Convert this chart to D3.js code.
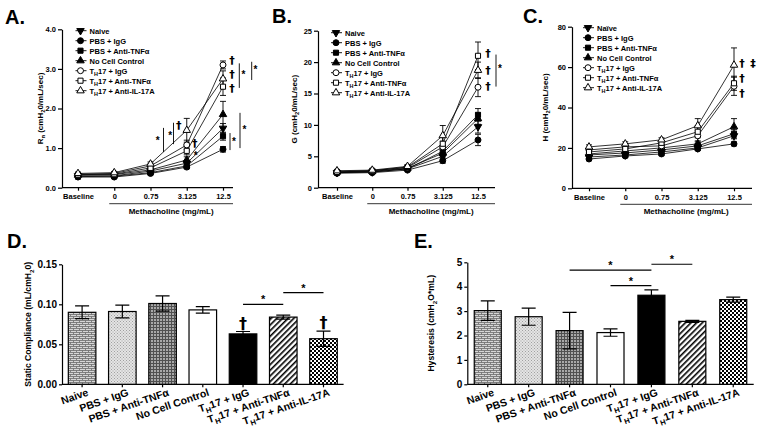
<!DOCTYPE html>
<html><head><meta charset="utf-8">
<script src="https://cdn.jsdelivr.net/npm/d3@7"></script>
<style>
body{margin:0;background:#fff}
svg{display:block}
text{font-family:"Liberation Sans",Arial,Helvetica,sans-serif;font-weight:bold;fill:#000}
text.sym{font-family:"DejaVu Sans","Liberation Serif",serif}
</style>
</head><body>
<svg id="c" width="764" height="437"></svg>
<script>
// ---------------- DATA ----------------
const doses = ["Baseline", "0", "0.75", "3.125", "12.5"];
const groups = ["Naive", "PBS + IgG", "PBS + Anti-TNFα", "No Cell Control", "T_H17 + IgG", "T_H17 + Anti-TNFα", "T_H17 + Anti-IL-17A"];
const groupsC = ["Naïve", "PBS + IgG", "PBS + Anti-TNFα", "No Cell Control", "T_H17 + IgG", "T_H17 + Anti-TNFα", "T_H17 + Anti-IL-17A"];

// Panel A: Rn (cmH2O/mL/sec), rows = groups, cols = doses
const rnMean = [
  [0.30, 0.30, 0.42, 0.62, 1.50],
  [0.27, 0.27, 0.36, 0.52, 0.97],
  [0.28, 0.29, 0.38, 0.55, 1.30],
  [0.32, 0.33, 0.45, 0.70, 1.85],
  [0.34, 0.36, 0.55, 1.08, 3.10],
  [0.33, 0.34, 0.50, 0.93, 2.55],
  [0.36, 0.38, 0.60, 1.45, 2.75]
];
const rnErr = [
  [0.02, 0.02, 0.03, 0.06, 0.12],
  [0.02, 0.02, 0.02, 0.04, 0.07],
  [0.02, 0.02, 0.02, 0.05, 0.10],
  [0.03, 0.03, 0.04, 0.08, 0.33],
  [0.03, 0.03, 0.05, 0.12, 0.10],
  [0.03, 0.03, 0.05, 0.10, 0.22],
  [0.03, 0.03, 0.05, 0.30, 0.20]
];
// Panel B: G
const gMean = [
  [2.4, 2.5, 3.0, 5.0, 9.7],
  [2.3, 2.4, 2.8, 4.3, 7.6],
  [2.4, 2.5, 3.0, 5.8, 11.6],
  [2.5, 2.6, 3.1, 5.5, 11.0],
  [2.6, 2.7, 3.2, 6.5, 16.0],
  [2.5, 2.7, 3.3, 7.0, 21.0],
  [2.7, 2.8, 3.4, 8.3, 18.7]
];
const gErr = [
  [0.1, 0.1, 0.15, 0.5, 1.0],
  [0.1, 0.1, 0.1, 0.4, 0.9],
  [0.1, 0.1, 0.15, 0.6, 1.0],
  [0.1, 0.1, 0.15, 0.6, 0.9],
  [0.15, 0.15, 0.2, 0.9, 1.5],
  [0.15, 0.15, 0.2, 1.0, 2.2],
  [0.15, 0.15, 0.2, 1.6, 1.3]
];
// Panel C: H
const hMean = [
  [15.5, 16.5, 18.0, 20.0, 26.0],
  [14.5, 16.0, 17.0, 19.5, 22.0],
  [16.5, 17.5, 19.0, 21.0, 27.0],
  [17.0, 18.5, 20.0, 22.0, 30.5],
  [19.0, 20.5, 21.0, 26.0, 50.5],
  [18.0, 19.5, 22.5, 28.0, 52.0],
  [20.5, 22.0, 24.0, 31.0, 61.0]
];
const hErr = [
  [0.8, 0.8, 0.8, 0.8, 1.5],
  [0.8, 0.8, 0.8, 0.8, 1.0],
  [0.8, 0.8, 0.8, 1.0, 2.0],
  [0.8, 0.8, 0.8, 1.0, 4.0],
  [1.0, 1.0, 1.0, 2.5, 4.5],
  [1.0, 1.0, 1.0, 3.0, 3.5],
  [1.0, 1.0, 1.0, 3.5, 8.5]
];
// Panel D: Static compliance
const compMean = [0.090, 0.091, 0.101, 0.093, 0.063, 0.084, 0.057];
const compErr  = [0.008, 0.008, 0.0095, 0.004, 0.003, 0.0025, 0.0095];
// Panel E: Hysteresis
const hystMean = [3.02, 2.77, 2.20, 2.12, 3.65, 2.58, 3.47];
const hystErr  = [0.40, 0.35, 0.75, 0.15, 0.22, 0.04, 0.10];

const ticksA = [0, 1, 2, 3, 4];
const ticksB = [0, 5, 10, 15, 20, 25];
const ticksC = [0, 20, 40, 60, 80];
const ticksD = [0, 0.05, 0.10, 0.15];
const ticksE = [0, 1, 2, 3, 4, 5];

// ---------------- STYLES ----------------
const symType = ["down", "circle", "square", "up", "circle", "square", "up"];
const symFilled = [true, true, true, true, false, false, false];
const barFill = ["url(#brick)", "url(#dots)", "url(#grid)", "#fff", "#000", "url(#diag)", "url(#check)"];
const FS_T = 7.5, FS_L = 7.5, FS_Y = 8, FS_BT = 10, FS_BY = 8.6, FS_BX = 10.5;

const svg = d3.select("#c");
const defs = svg.append("defs");
(function () {
  let p = defs.append("pattern").attr("id", "brick").attr("patternUnits", "userSpaceOnUse").attr("width", 6).attr("height", 4);
  p.append("rect").attr("width", 6).attr("height", 4).attr("fill", "#d6d6d6");
  p.append("path").attr("d", "M0,0.5H6M0,2.5H6M1.5,0.5V2.5M4.5,2.5V4.5").attr("stroke", "#6a6a6a").attr("stroke-width", 0.8).attr("fill", "none");
  p = defs.append("pattern").attr("id", "dots").attr("patternUnits", "userSpaceOnUse").attr("width", 3).attr("height", 3);
  p.append("rect").attr("width", 3).attr("height", 3).attr("fill", "#e4e4e4");
  p.append("rect").attr("width", 1).attr("height", 1).attr("fill", "#a0a0a0");
  p.append("rect").attr("x", 1.5).attr("y", 1.5).attr("width", 1).attr("height", 1).attr("fill", "#a0a0a0");
  p = defs.append("pattern").attr("id", "grid").attr("patternUnits", "userSpaceOnUse").attr("width", 3).attr("height", 3);
  p.append("rect").attr("width", 3).attr("height", 3).attr("fill", "#a8a8a8");
  p.append("path").attr("d", "M0.5,0V3M0,0.5H3").attr("stroke", "#505050").attr("stroke-width", 1).attr("fill", "none");
  p = defs.append("pattern").attr("id", "diag").attr("patternUnits", "userSpaceOnUse").attr("width", 4).attr("height", 4).attr("patternTransform", "rotate(45)");
  p.append("rect").attr("width", 4).attr("height", 4).attr("fill", "#fff");
  p.append("rect").attr("width", 1.6).attr("height", 4).attr("fill", "#000");
  p = defs.append("pattern").attr("id", "check").attr("patternUnits", "userSpaceOnUse").attr("width", 4).attr("height", 4);
  p.append("rect").attr("width", 4).attr("height", 4).attr("fill", "#fff");
  p.append("rect").attr("width", 2).attr("height", 2).attr("fill", "#000");
  p.append("rect").attr("x", 2).attr("y", 2).attr("width", 2).attr("height", 2).attr("fill", "#000");
})();

// text with "_x" single-char subscripts
function rich(sel, str, fs) {
  const parts = [];
  let buf = "";
  for (let i = 0; i < str.length; i++) {
    if (str[i] === "_" && i + 1 < str.length) {
      if (buf) parts.push([buf, false]);
      parts.push([str[i + 1], true]);
      buf = ""; i++;
    } else buf += str[i];
  }
  if (buf) parts.push([buf, false]);
  let shift = 0;
  parts.forEach(([t, sub]) => {
    const target = sub ? fs * 0.3 : 0;
    sel.append("tspan").attr("dy", target - shift).attr("font-size", sub ? fs * 0.72 : fs).text(t);
    shift = target;
  });
  return sel;
}

function styleAxis(fs) {
  return g => {
    g.attr("font-family", null).attr("font-size", null);
    g.selectAll("path,line").attr("stroke", "#000").attr("stroke-width", 1.2);
    g.selectAll("text").attr("font-size", fs).attr("fill", "#000");
  };
}

function symPath(type, size) {
  const t = type === "circle" ? d3.symbolCircle : type === "square" ? d3.symbolSquare : d3.symbolTriangle;
  return d3.symbol().type(t).size(size)();
}
function drawSym(g, i, cx, cy) {
  const type = symType[i];
  const size = type === "circle" ? 28 : type === "square" ? 26 : 24;
  g.append("path").attr("d", symPath(type, size))
    .attr("transform", `translate(${cx},${cy})` + (type === "down" ? " rotate(180)" : ""))
    .attr("fill", symFilled[i] ? "#000" : "#fff").attr("stroke", "#000").attr("stroke-width", 1);
}

function panelLetter(t, x, y) {
  svg.append("text").attr("x", x).attr("y", y).attr("font-size", 20).text(t);
}

function linePanel(o) {
  const g = svg.append("g");
  const x = d3.scalePoint().domain(doses).range(o.xr);
  const y = d3.scaleLinear().domain([0, o.ymax]).range(o.yr);
  g.append("g").attr("transform", `translate(${o.ax},0)`)
    .call(d3.axisLeft(y).tickValues(o.ticks).tickSize(4).tickPadding(2).tickSizeOuter(0)).call(styleAxis(FS_T));
  const xa = g.append("g").attr("transform", `translate(0,${o.yr[0]})`)
    .call(d3.axisBottom(x).tickSize(3).tickPadding(3)).call(styleAxis(FS_T));
  xa.select(".domain").remove();
  g.append("line").attr("x1", o.ax).attr("x2", o.axEnd).attr("y1", o.yr[0]).attr("y2", o.yr[0]).attr("stroke", "#000").attr("stroke-width", 1.2);
  // methacholine underline
  g.append("line").attr("x1", x("0") - 5).attr("x2", o.axEnd).attr("y1", o.yr[0] + 16).attr("y2", o.yr[0] + 16).attr("stroke", "#000").attr("stroke-width", 0.8);
  g.append("text").attr("x", (x("0") - 5 + o.axEnd) / 2).attr("y", o.yr[0] + 26).attr("text-anchor", "middle").attr("font-size", FS_Y).text("Methacholine (mg/mL)");
  // y label
  rich(g.append("text").attr("transform", `translate(${o.ylx},${(o.yr[0] + o.yr[1]) / 2}) rotate(-90)`).attr("text-anchor", "middle"), o.ylabel, FS_Y);
  const line = d3.line().x((d, j) => x(doses[j])).y(d => y(d));
  o.mean.forEach((row, i) => {
    g.append("path").attr("d", line(row)).attr("fill", "none").attr("stroke", "#000").attr("stroke-width", 0.8);
  });
  o.mean.forEach((row, i) => {
    row.forEach((m, j) => {
      const e = o.err[i][j], cx = x(doses[j]);
      g.append("path").attr("d", `M${cx},${y(m - e)}V${y(m + e)}M${cx - 3},${y(m + e)}H${cx + 3}M${cx - 3},${y(m - e)}H${cx + 3}`)
        .attr("stroke", "#000").attr("stroke-width", 0.9).attr("fill", "none");
    });
  });
  o.mean.forEach((row, i) => row.forEach((m, j) => drawSym(g, i, x(doses[j]), y(m))));
  // legend
  o.labels.forEach((lab, i) => {
    const ly = o.ly + i * 10;
    g.append("line").attr("x1", o.lx - 5).attr("x2", o.lx + 6).attr("y1", ly).attr("y2", ly).attr("stroke", "#000").attr("stroke-width", 0.9);
    drawSym(g, i, o.lx, ly);
    rich(g.append("text").attr("x", o.lx + 9).attr("y", ly + 2.8), lab, FS_L);
  });
  // annotations
  (o.ann || []).forEach(a => {
    const ax = x(a.cat) + a.dx;
    if (a.bar) {
      g.append("line").attr("x1", ax).attr("x2", ax).attr("y1", y(a.v1)).attr("y2", y(a.v2)).attr("stroke", "#000").attr("stroke-width", 0.9);
    } else {
      g.append("text").attr("class", a.t === "*" ? null : "sym").attr("x", ax).attr("y", y(a.v)).attr("dy", a.t === "*" ? "0.6em" : "0.36em")
        .attr("text-anchor", "middle").attr("font-size", a.t === "*" ? 10 : 11).text(a.t);
    }
  });
}

function barPanel(o) {
  const g = svg.append("g");
  const x = d3.scaleBand().domain(groups).range(o.xr).paddingInner(o.pi).paddingOuter(o.po);
  const y = d3.scaleLinear().domain([0, o.ymax]).range(o.yr);
  g.append("g").attr("transform", `translate(${o.ax},0)`)
    .call(d3.axisLeft(y).tickValues(o.ticks).tickFormat(o.fmt).tickSize(3).tickPadding(2).tickSizeOuter(0)).call(styleAxis(FS_BT));
  const xa = g.append("g").attr("transform", `translate(0,${o.yr[0]})`)
    .call(d3.axisBottom(x).tickSize(3).tickFormat("")).call(styleAxis(FS_BT));
  xa.select(".domain").remove();
  g.append("line").attr("x1", o.ax).attr("x2", o.xr[1]).attr("y1", o.yr[0]).attr("y2", o.yr[0]).attr("stroke", "#000").attr("stroke-width", 1.2);
  rich(g.append("text").attr("transform", `translate(${o.ylx},${(o.yr[0] + o.yr[1]) / 2}) rotate(-90)`).attr("text-anchor", "middle"), o.ylabel, FS_BY);
  groups.forEach((gr, i) => {
    g.append("rect").attr("x", x(gr)).attr("y", y(o.mean[i])).attr("width", x.bandwidth()).attr("height", y(0) - y(o.mean[i]))
      .attr("fill", barFill[i]).attr("stroke", "#000").attr("stroke-width", 1.2);
  });
  groups.forEach((gr, i) => {
    const cx = x(gr) + x.bandwidth() / 2, m = o.mean[i], e = o.err[i];
    g.append("path").attr("d", `M${cx},${y(m - e)}V${y(m + e)}M${cx - 7},${y(m + e)}H${cx + 7}M${cx - 7},${y(m - e)}H${cx + 7}`)
      .attr("stroke", "#000").attr("stroke-width", 1.2).attr("fill", "none");
    rich(g.append("text").attr("text-anchor", "end")
      .attr("transform", `translate(${cx + 7},${y(0) + 11}) rotate(-19)`), gr, FS_BX);
  });
  (o.sig || []).forEach(s => {
    const x1 = x(s.g1) + x.bandwidth() / 2, x2 = x(s.g2) + x.bandwidth() / 2;
    g.append("line").attr("x1", x1).attr("x2", x2).attr("y1", y(s.v)).attr("y2", y(s.v)).attr("stroke", "#000").attr("stroke-width", 1.2);
    g.append("text").attr("x", (x1 + x2) / 2).attr("y", y(s.v) - 1).attr("text-anchor", "middle").attr("font-size", 11).text("*");
  });
  (o.dag || []).forEach(gr => {
    const i = groups.indexOf(gr), cx = x(gr) + x.bandwidth() / 2;
    g.append("text").attr("class", "sym").attr("x", cx).attr("y", y(o.mean[i] + o.err[i]) - 3).attr("text-anchor", "middle").attr("font-size", 16).text("†");
  });
}

// ---------------- PANELS ----------------
panelLetter("A.", 5, 24);
linePanel({
  xr: [78, 223], ax: 62, axEnd: 233, ymax: 4, yr: [187.7, 29.3], ticks: ticksA,
  mean: rnMean, err: rnErr, labels: groups, lx: 80.5, ly: 30.7, ylx: 43,
  ylabel: "R_n (cmH_20/mL/sec)",
  ann: [
    { t: "†", cat: "12.5", dx: 9, v: 3.22 }, { t: "†", cat: "12.5", dx: 9, v: 2.88 }, { t: "†", cat: "12.5", dx: 9, v: 2.52 },
    { bar: true, cat: "12.5", dx: 16.3, v1: 3.14, v2: 2.52 }, { t: "*", cat: "12.5", dx: 20.5, v: 2.92 },
    { bar: true, cat: "12.5", dx: 28.7, v1: 3.18, v2: 2.72 }, { t: "*", cat: "12.5", dx: 32.5, v: 3.05 },
    { bar: true, cat: "12.5", dx: 7, v1: 1.38, v2: 0.95 }, { t: "*", cat: "12.5", dx: 11, v: 1.22 },
    { bar: true, cat: "12.5", dx: 17, v1: 1.89, v2: 1.0 }, { t: "*", cat: "12.5", dx: 21.5, v: 1.54 },
    { t: "†", cat: "3.125", dx: -8, v: 1.58 }, { t: "†", cat: "3.125", dx: 8, v: 1.13 }, { t: "*", cat: "3.125", dx: 9, v: 0.87 },
    { t: "*", cat: "0.75", dx: 7.3, v: 1.25 }, { bar: true, cat: "0.75", dx: 13, v1: 1.51, v2: 0.9 },
    { t: "*", cat: "0.75", dx: 19.7, v: 1.38 }, { bar: true, cat: "0.75", dx: 23, v1: 1.64, v2: 1.1 }
  ]
});
panelLetter("B.", 272, 23);
linePanel({
  xr: [337, 478], ax: 318, axEnd: 495, ymax: 25, yr: [187.7, 30.7], ticks: ticksB,
  mean: gMean, err: gErr, labels: groups, lx: 336, ly: 32.7, ylx: 297,
  ylabel: "G (cmH_20/mL/sec)",
  ann: [
    { t: "†", cat: "12.5", dx: 10, v: 21.4 }, { t: "†", cat: "12.5", dx: 10, v: 18.7 }, { t: "†", cat: "12.5", dx: 10, v: 16.2 },
    { bar: true, cat: "12.5", dx: 18, v1: 21.2, v2: 16.1 }, { t: "*", cat: "12.5", dx: 22, v: 19.3 }
  ]
});
panelLetter("C.", 523, 23);
linePanel({
  xr: [589, 734], ax: 572, axEnd: 752, ymax: 80, yr: [188.3, 26.7], ticks: ticksC,
  mean: hMean, err: hErr, labels: groupsC, lx: 588, ly: 27.7, ylx: 548,
  ylabel: "H (cmH_20/mL/sec)",
  ann: [
    { t: "†", cat: "12.5", dx: 8, v: 61.9 }, { t: "‡", cat: "12.5", dx: 19, v: 61.9 },
    { t: "†", cat: "12.5", dx: 8, v: 54.5 }, { t: "†", cat: "12.5", dx: 8, v: 47.0 }
  ]
});
panelLetter("D.", 7, 248);
barPanel({
  xr: [62, 343.6], pi: 0.315, po: 0.157, ax: 62, ymax: 0.15, yr: [384.3, 264.3], ticks: ticksD,
  fmt: d3.format(".2f"), mean: compMean, err: compErr, ylx: 31,
  ylabel: "Static Compliance (mL/cmH_20)",
  sig: [
    { g1: "T_H17 + IgG", g2: "T_H17 + Anti-TNFα", v: 0.100 },
    { g1: "T_H17 + Anti-TNFα", g2: "T_H17 + Anti-IL-17A", v: 0.1145 }
  ],
  dag: ["T_H17 + IgG", "T_H17 + Anti-IL-17A"]
});
panelLetter("E.", 414, 248);
barPanel({
  xr: [467.3, 753.7], pi: 0.34, po: 0.17, ax: 467.3, ymax: 5, yr: [384.3, 262.3], ticks: ticksE,
  fmt: d3.format("d"), mean: hystMean, err: hystErr, ylx: 434,
  ylabel: "Hysteresis (cmH_2O*mL)",
  sig: [
    { g1: "PBS + Anti-TNFα", g2: "T_H17 + IgG", v: 4.68 },
    { g1: "No Cell Control", g2: "T_H17 + IgG", v: 4.04 },
    { g1: "T_H17 + IgG", g2: "T_H17 + Anti-TNFα", v: 4.92 }
  ]
});
</script>
</body></html>
